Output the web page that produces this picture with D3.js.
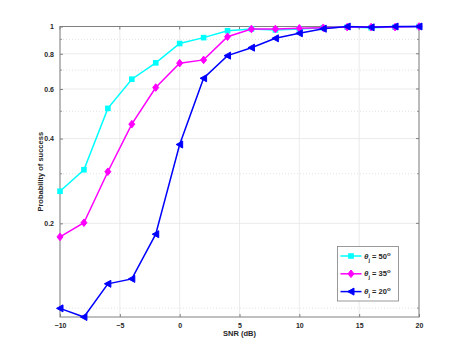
<!DOCTYPE html>
<html>
<head>
<meta charset="utf-8">
<script src="https://cdn.jsdelivr.net/npm/d3@7"></script>
<style>
  body { margin: 0; background: #fff; }
  text { font-family: "Liberation Sans", Arial, sans-serif; font-weight: bold; fill: #262626; }
</style>
</head>
<body>
<svg id="chart" width="463" height="357"></svg>
<script>
// data
const snr = [-10, -8, -6, -4, -2, 0, 2, 4, 6, 8, 10, 12, 14, 16, 18, 20];
const theta50 = [0.26, 0.31, 0.512, 0.65, 0.743, 0.87, 0.913, 0.966, 0.98, 0.972, 0.98, 0.99, 0.995, 0.99, 0.995, 1.0];
const theta35 = [0.179, 0.201, 0.305, 0.45, 0.607, 0.741, 0.761, 0.92, 0.98, 0.98, 0.985, 0.99, 0.995, 0.995, 0.995, 1.0];
const theta20 = [0.0998, 0.093, 0.122, 0.127, 0.183, 0.381, 0.655, 0.788, 0.841, 0.908, 0.946, 0.982, 1.0, 0.993, 1.0, 1.0];
const xTicks = [-10, -5, 0, 5, 10, 15, 20];
const yTicks = [0.2, 0.4, 0.6, 0.8, 1];
const yMinor = [0.1, 0.3, 0.5, 0.7, 0.9];
const series = [
    { angle: "50", values: theta50, color: "#00ffff", marker: "square" },
    { angle: "35", values: theta35, color: "#ff00ff", marker: "diamond" },
    { angle: "20", values: theta20, color: "#0000ff", marker: "triangle" }
];

const svg = d3.select("#chart");
const mLeft = 60, mRight = 419, mTop = 26.5, mBottom = 317;

const x = d3.scaleLinear().domain([-10, 20]).range([mLeft, mRight]);
const y = d3.scaleLog().domain([0.093, 1]).range([mBottom, mTop]);

// grid
const grid = svg.append("g");
grid.selectAll(".gx").data(xTicks).join("line")
    .attr("x1", d => x(d)).attr("x2", d => x(d))
    .attr("y1", mTop).attr("y2", mBottom)
    .attr("stroke", "#e6e6e6").attr("stroke-width", 0.8);
grid.selectAll(".gy").data(yTicks).join("line")
    .attr("x1", mLeft).attr("x2", mRight)
    .attr("y1", d => y(d)).attr("y2", d => y(d))
    .attr("stroke", "#e6e6e6").attr("stroke-width", 0.8);
grid.selectAll(".gm").data(yMinor).join("line")
    .attr("x1", mLeft).attr("x2", mRight)
    .attr("y1", d => y(d)).attr("y2", d => y(d))
    .attr("stroke", "#d0d0d0").attr("stroke-width", 0.6)
    .attr("stroke-dasharray", "1,2");

// axes, ticks pointing inward
const xAxis = d3.axisBottom(x).tickValues(xTicks).tickSize(-3).tickPadding(6).tickFormat(d3.format("d"));
const yAxis = d3.axisLeft(y).tickValues(yTicks).tickSize(-3).tickPadding(6).tickFormat(d => d === 1 ? "1" : d3.format(".1f")(d));

const gx = svg.append("g").attr("transform", `translate(0,${mBottom})`).call(xAxis);
const gy = svg.append("g").attr("transform", `translate(${mLeft},0)`).call(yAxis);
[gx, gy].forEach(g => {
    g.select(".domain").remove();
    g.selectAll("line").attr("stroke", "#808080");
    g.selectAll("text").style("font-size", "7px").style("font-family", "Liberation Sans, Arial, sans-serif")
        .style("font-weight", "bold").attr("fill", "#262626");
});
// minor ticks on y
svg.append("g").selectAll("line").data(yMinor.concat(yMinor)).join("line")
    .attr("x1", (d, i) => i < yMinor.length ? mLeft : mRight)
    .attr("x2", (d, i) => i < yMinor.length ? mLeft + 2 : mRight - 2)
    .attr("y1", d => y(d)).attr("y2", d => y(d))
    .attr("stroke", "#808080").attr("stroke-width", 0.8);
// right and top ticks
svg.append("g").selectAll("line").data(yTicks).join("line")
    .attr("x1", mRight).attr("x2", mRight - 3)
    .attr("y1", d => y(d)).attr("y2", d => y(d))
    .attr("stroke", "#808080");
svg.append("g").selectAll("line").data(xTicks).join("line")
    .attr("x1", d => x(d)).attr("x2", d => x(d))
    .attr("y1", mTop).attr("y2", mTop + 3)
    .attr("stroke", "#808080");

// box
svg.append("rect")
    .attr("x", mLeft).attr("y", mTop)
    .attr("width", mRight - mLeft).attr("height", mBottom - mTop)
    .attr("fill", "none").attr("stroke", "#808080").attr("stroke-width", 1);

// axis labels
svg.append("text")
    .attr("x", (mLeft + mRight) / 2).attr("y", 336)
    .attr("text-anchor", "middle").style("font-size", "7.5px")
    .text("SNR (dB)");
svg.append("text")
    .attr("transform", `translate(43,${(mTop + mBottom) / 2}) rotate(-90)`)
    .attr("text-anchor", "middle").style("font-size", "7.5px")
    .text("Probability of success");

function drawMarker(g, type, color, cx, cy) {
    if (type === "square") {
        g.append("rect").attr("x", cx - 2.8).attr("y", cy - 2.8)
            .attr("width", 5.6).attr("height", 5.6).attr("fill", color);
    } else if (type === "diamond") {
        g.append("path")
            .attr("d", `M${cx},${cy - 3.8}L${cx + 3},${cy}L${cx},${cy + 3.8}L${cx - 3},${cy}Z`)
            .attr("fill", color).attr("stroke", color).attr("stroke-width", 1);
    } else {
        g.append("path")
            .attr("d", `M${cx - 3.5},${cy}L${cx + 3},${cy - 3.5}L${cx + 3},${cy + 3.5}Z`)
            .attr("fill", color).attr("stroke", color).attr("stroke-width", 1);
    }
}

const line = d3.line().x((d, i) => x(snr[i])).y(d => y(d));
series.forEach(s => {
    const g = svg.append("g");
    g.append("path").datum(s.values)
        .attr("d", line).attr("fill", "none")
        .attr("stroke", s.color).attr("stroke-width", 1.5);
    s.values.forEach((v, i) => drawMarker(g, s.marker, s.color, x(snr[i]), y(v)));
});

// legend
const lg = svg.append("g").attr("transform", "translate(337.5,246.5)");
lg.append("rect").attr("width", 61).attr("height", 54.5)
    .attr("fill", "#fff").attr("stroke", "#808080").attr("stroke-width", 0.8);
series.forEach((s, i) => {
    const ly = 9.5 + i * 17.8;
    lg.append("line").attr("x1", 3).attr("x2", 24).attr("y1", ly).attr("y2", ly)
        .attr("stroke", s.color).attr("stroke-width", 1.5);
    drawMarker(lg, s.marker, s.color, 13.5, ly);
    const t = lg.append("text").attr("x", 26.5).attr("y", ly + 2.5).style("font-size", "7.5px");
    t.append("tspan").style("font-style", "italic").style("font-size", "8px").text("θ");
    t.append("tspan").attr("dy", 3).style("font-size", "5.5px").text("j");
    t.append("tspan").attr("dy", -3).text(" = " + s.angle);
    t.append("tspan").attr("dy", -3).style("font-size", "6px").text("o");
});
</script>
</body>
</html>
